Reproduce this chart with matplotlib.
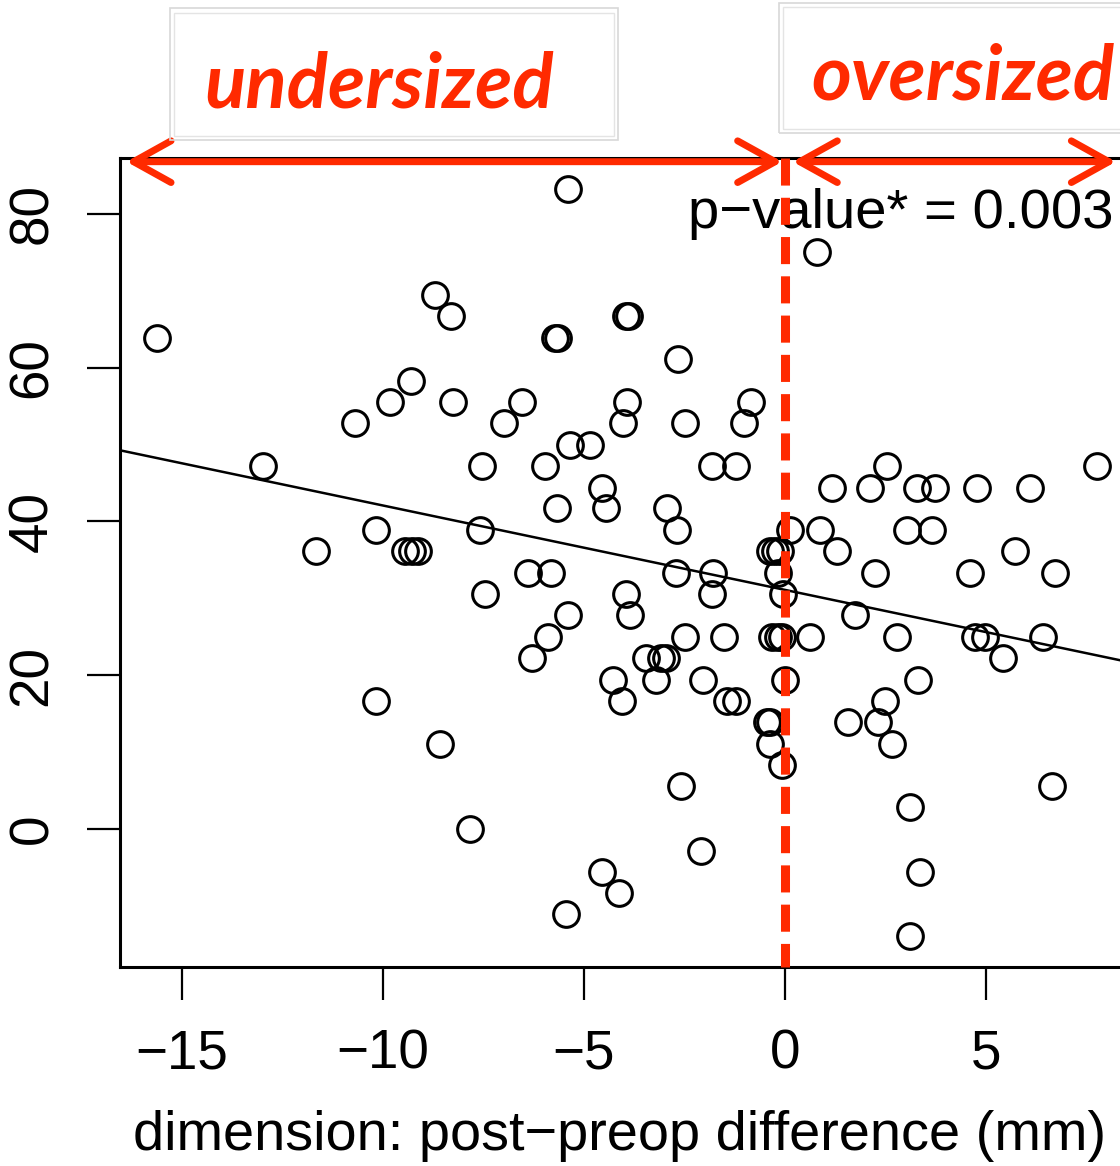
import matplotlib
matplotlib.use("Agg")
import matplotlib.pyplot as plt
from matplotlib.patches import Rectangle, FancyArrowPatch, ArrowStyle

# ---------------- data ----------------
x_diff = [
    -15.62, -12.99, -11.67, -10.17, -10.17, -10.70, -9.83, -9.30,
    -9.45, -9.28, -9.12, -8.71, -8.31, -8.26, -8.58, -7.84,
    -7.54, -7.59, -7.46, -6.99, -6.54, -6.39, -6.29, -5.97,
    -5.82, -5.90, -5.67, -5.72, -5.64, -5.40, -5.40, -5.35,
    -5.45, -4.85, -4.55, -4.45, -4.55, -4.28, -4.13, -4.05,
    -4.03, -3.93, -3.95, -3.88, -3.96, -3.86, -3.46, -3.21,
    -3.08, -2.97, -2.94, -2.69, -2.66, -2.71, -2.49, -2.49,
    -2.59, -2.09, -2.04, -1.79, -1.82, -1.82, -1.52, -1.44,
    -1.22, -1.22, -1.02, -0.85, -0.45, -0.38, -0.37, -0.07,
    0.12, -0.37, -0.25, -0.12, -0.17, -0.05, -0.32, -0.17,
    -0.07, 0.62, 0.00,
    0.80, 2.54, 7.76, 1.17, 2.11, 3.28, 3.73, 4.78,
    6.09, 0.87, 3.03, 3.66, 1.29, 5.72, 2.24, 4.60,
    6.72, 1.74, 2.79, 4.73, 4.98, 6.42, 5.42, 3.31,
    2.49, 1.57, 2.31, 2.66, 6.64, 3.11, 3.36, 3.11,
]
y_val = [
    63.9, 47.2, 36.1, 38.9, 16.7, 52.8, 55.6, 58.3,
    36.1, 36.1, 36.1, 69.4, 66.7, 55.6, 11.1, 0.0,
    47.2, 38.9, 30.6, 52.8, 55.6, 33.3, 22.2, 47.2,
    33.3, 25.0, 41.7, 63.9, 63.9, 83.3, 27.8, 50.0,
    -11.1, 50.0, 44.4, 41.7, -5.6, 19.4, -8.3, 16.7,
    52.8, 55.6, 66.7, 66.7, 30.6, 27.8, 22.2, 19.4,
    22.2, 22.2, 41.7, 38.9, 61.1, 33.3, 52.8, 25.0,
    5.6, -2.8, 19.4, 33.3, 30.6, 47.2, 25.0, 16.7,
    16.7, 47.2, 52.8, 55.6, 13.9, 13.9, 11.1, 8.3,
    38.9, 36.1, 36.1, 36.1, 33.3, 30.6, 25.0, 25.0,
    25.0, 25.0, 19.4,
    75.0, 47.2, 47.2, 44.4, 44.4, 44.4, 44.4, 44.4,
    44.4, 38.9, 38.9, 38.9, 36.1, 36.1, 33.3, 33.3,
    33.3, 27.8, 25.0, 25.0, 25.0, 25.0, 22.2, 19.4,
    16.7, 13.9, 13.9, 11.1, 5.6, 2.8, -5.6, -13.9,
]
fit_intercept = 31.1
fit_slope = -1.098

x_ticks = [-15, -10, -5, 0, 5]
x_tick_labels = ["\u221215", "\u221210", "\u22125", "0", "5"]
y_ticks = [0, 20, 40, 60, 80]
y_tick_labels = ["0", "20", "40", "60", "80"]

x_label = "dimension: post\u2212preop difference (mm)"
p_text = "p\u2212value* = 0.003"
left_group = "undersized"
right_group = "oversized"

RED = "#ff2a00"
W, H = 1120, 1166

# ---------------- figure ----------------
plt.rcParams["font.family"] = ["Liberation Sans", "DejaVu Sans"]
fig = plt.figure(figsize=(W / 100, H / 100), dpi=100)
ax_left, ax_right = 120 / W, 1.0
ax_bottom, ax_top = 1 - 967 / H, 1 - 158 / H
ax = fig.add_axes([ax_left, ax_bottom, ax_right - ax_left, ax_top - ax_bottom])
ax.set_xlim(-16.54, 8.33)
ax.set_ylim(-17.95, 87.28)

ax.plot(x_diff, y_val, linestyle="none", marker="o", markersize=18.5,
        markerfacecolor="none", markeredgecolor="black", markeredgewidth=2.2,
        zorder=3)
ax.axline((0, fit_intercept), slope=fit_slope, color="black", lw=1.8, zorder=2)

for s in ("left", "bottom", "top"):
    ax.spines[s].set_linewidth(2.2)
ax.spines["right"].set_visible(False)

ax.set_xticks(x_ticks)
ax.set_xticklabels(x_tick_labels)
ax.set_yticks(y_ticks)
ax.set_yticklabels(y_tick_labels, rotation=90, va="center")
ax.tick_params(axis="both", length=24, width=1.6, labelsize=39.5, pad=20,
               direction="out")

xl = ax.set_xlabel(x_label, fontsize=40.2, ha="left", va="top")
ax.xaxis.set_label_coords(13 / 1000, (967 - 1110) / 809)

ax.text(-2.41, 78.2, p_text, fontsize=40.5, ha="left", va="baseline", zorder=4)

# red dashed line at 0
ax.plot([0, 0], [87.28, -17.95], color=RED, lw=6.5, dashes=(3, 1.35),
        solid_capstyle="butt", dash_capstyle="butt", zorder=5, clip_on=False)

# arrows
arrow_y = 86.8
for x0, x1 in ((-16.45, 0.0), (0.12, 8.3)):
    arr = FancyArrowPatch((x0, arrow_y), (x1, arrow_y),
                          arrowstyle=ArrowStyle("<->", head_length=27, head_width=15),
                          mutation_scale=1, color=RED, lw=5, clip_on=False,
                          zorder=6, capstyle="round", joinstyle="round")
    ax.add_patch(arr)

# label boxes
def px_rect(x0, y0, x1, y1, **kw):
    r = Rectangle((x0 / W, 1 - y1 / H), (x1 - x0) / W, (y1 - y0) / H,
                  transform=fig.transFigure, fill=False, **kw)
    fig.patches.append(r)

px_rect(170, 8, 618, 140, edgecolor="#d8d8d8", lw=1.2)
px_rect(174, 13, 614, 136, edgecolor="#e4e4e4", lw=1.0)
px_rect(779, 3, 1130, 133, edgecolor="#d8d8d8", lw=1.2)
px_rect(783, 7, 1130, 129, edgecolor="#e4e4e4", lw=1.0)

fig.text(379 / W, 1 - 107 / H, left_group, color=RED, fontsize=55,
         fontweight="bold", fontstyle="italic", family=["Lato", "DejaVu Sans"],
         ha="center", va="baseline")
fig.text(811 / W, 1 - 100 / H, right_group, color=RED, fontsize=55,
         fontweight="bold", fontstyle="italic", family=["Lato", "DejaVu Sans"],
         ha="left", va="baseline")

fig.savefig("out.png", dpi=100)
